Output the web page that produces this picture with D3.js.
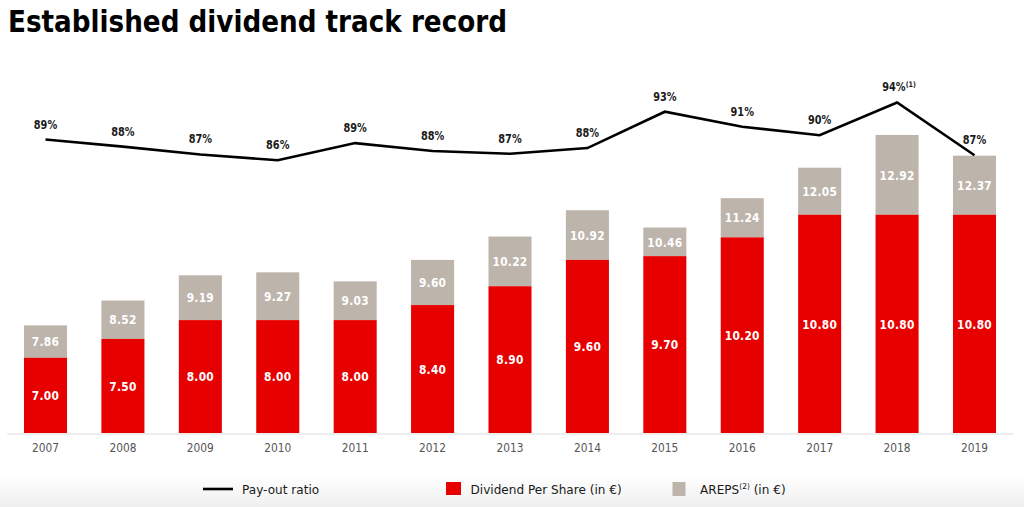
<!DOCTYPE html>
<html>
<head>
<meta charset="utf-8">
<script src="https://cdn.jsdelivr.net/npm/d3@7"></script>
<style>
  html, body { margin: 0; padding: 0; background: #fff; }
  svg { display: block; font-family: "DejaVu Sans", sans-serif; }
</style>
</head>
<body>
<svg id="chart" width="1024" height="507"></svg>
<script>
// ---- data ----
const years = ["2007","2008","2009","2010","2011","2012","2013","2014","2015","2016","2017","2018","2019"];
const dividend = [7.00, 7.50, 8.00, 8.00, 8.00, 8.40, 8.90, 9.60, 9.70, 10.20, 10.80, 10.80, 10.80];
const areps = [7.86, 8.52, 9.19, 9.27, 9.03, 9.60, 10.22, 10.92, 10.46, 11.24, 12.05, 12.92, 12.37];
const payout = [89.1, 88.1, 87.0, 86.2, 88.6, 87.5, 87.1, 87.9, 93.0, 90.9, 89.7, 94.3, 86.9];
const payoutLabels = ["89%","88%","87%","86%","89%","88%","87%","88%","93%","91%","90%","94%","87%"];
const payoutNotes = ["","","","","","","","","","","","(1)",""];
const title = "Established dividend track record";
const legendLabels = ["Pay-out ratio", "Dividend Per Share (in €)", "AREPS"];

// ---- styles ----
const RED = "#e60000", GREY = "#bdb4ab";

const svg = d3.select("#chart");

// bottom soft gradient
const defs = svg.append("defs");
const grad = defs.append("linearGradient").attr("id","bg").attr("x1",0).attr("x2",0).attr("y1",0).attr("y2",1);
grad.append("stop").attr("offset","0%").attr("stop-color","#ffffff");
grad.append("stop").attr("offset","100%").attr("stop-color","#efefef");
svg.append("rect").attr("x",0).attr("y",476).attr("width",1024).attr("height",31).attr("fill","url(#bg)");

// title
svg.append("text")
  .attr("transform","translate(8,32) scale(0.875,1)")
  .attr("font-size",30).attr("font-weight","bold").attr("fill","#000")
  .text(title);

// scales
const x = d3.scaleBand().domain(years).range([6.8, 1013.2]).paddingInner(0.444).paddingOuter(0.222);
const y = d3.scaleLinear().domain([5, 15]).range([433, 56.7]);
const yp = d3.scaleLinear().domain([80, 100]).range([204.4, 61.8]);

const rows = years.map((yr, i) => ({yr, d: dividend[i], a: areps[i], p: payout[i], pl: payoutLabels[i], pn: payoutNotes[i]}));

// grey bars (AREPS top down to dividend)
svg.append("g").selectAll("rect").data(rows).join("rect")
  .attr("x", r => x(r.yr)).attr("width", x.bandwidth())
  .attr("y", r => y(r.a)).attr("height", r => y(r.d) - y(r.a))
  .attr("fill", GREY);

// red bars
svg.append("g").selectAll("rect").data(rows).join("rect")
  .attr("x", r => x(r.yr)).attr("width", x.bandwidth())
  .attr("y", r => y(r.d)).attr("height", r => y(5) - y(r.d))
  .attr("fill", RED);

// bar labels
const cx = r => x(r.yr) + x.bandwidth() / 2;
svg.append("g").selectAll("text").data(rows).join("text")
  .attr("transform", r => `translate(${cx(r)},${(y(r.d) + y(5)) / 2 + 4.7}) scale(0.82,1)`)
  .attr("text-anchor","middle").attr("font-size",13).attr("font-weight","bold").attr("fill","#fff")
  .attr("letter-spacing",0.3)
  .text(r => r.d.toFixed(2));
svg.append("g").selectAll("text").data(rows).join("text")
  .attr("transform", r => `translate(${cx(r)},${(y(r.a) + y(r.d)) / 2 + 4.7}) scale(0.82,1)`)
  .attr("text-anchor","middle").attr("font-size",13).attr("font-weight","bold").attr("fill","#fff")
  .attr("letter-spacing",0.3)
  .text(r => r.a.toFixed(2));

// x axis
const ax = svg.append("g").attr("transform","translate(0,433.5)")
  .call(d3.axisBottom(x).tickSize(0).tickSizeOuter(0).tickPadding(10));
ax.select(".domain").attr("stroke","#dcdcdc").attr("stroke-width",1);
ax.selectAll(".tick text")
  .attr("font-family","DejaVu Sans").attr("font-size",12.5).attr("fill","#555")
  .attr("transform","scale(0.85,1)");

// payout line
const line = d3.line().x(r => cx(r)).y(r => yp(r.p));
svg.append("path").datum(rows).attr("d", line)
  .attr("fill","none").attr("stroke","#000").attr("stroke-width",2.6).attr("stroke-linejoin","miter");

// payout labels
const pl = svg.append("g").selectAll("text").data(rows).join("text")
  .attr("transform", r => `translate(${cx(r) + (r.pn ? 2 : 0)},${yp(r.p) - 11}) scale(0.85,1)`)
  .attr("text-anchor","middle").attr("font-size",11.5).attr("font-weight","bold").attr("fill","#1a1a1a");
pl.append("tspan").text(r => r.pl);
pl.filter(r => r.pn).append("tspan").attr("font-size",7.5).attr("dy",-4).text(r => r.pn);

// legend
const lg = svg.append("g");
lg.append("line").attr("x1",203).attr("x2",233).attr("y1",489).attr("y2",489).attr("stroke","#000").attr("stroke-width",2.6);
lg.append("text").attr("transform","translate(242,494) scale(0.93,1)").attr("font-size",13).attr("fill","#1a1a1a").text(legendLabels[0]);
lg.append("rect").attr("x",446).attr("y",482).attr("width",15).attr("height",13).attr("fill",RED);
lg.append("text").attr("transform","translate(470.5,494) scale(0.93,1)").attr("font-size",13).attr("fill","#1a1a1a").text(legendLabels[1]);
lg.append("rect").attr("x",672.5).attr("y",482).attr("width",13).attr("height",14).attr("fill",GREY);
const at = lg.append("text").attr("transform","translate(700,494) scale(0.93,1)").attr("font-size",13).attr("fill","#1a1a1a");
at.append("tspan").text(legendLabels[2]);
at.append("tspan").attr("font-size",8).attr("dy",-5).text("(2)");
at.append("tspan").attr("dy",5).text(" (in €)");
</script>
</body>
</html>
